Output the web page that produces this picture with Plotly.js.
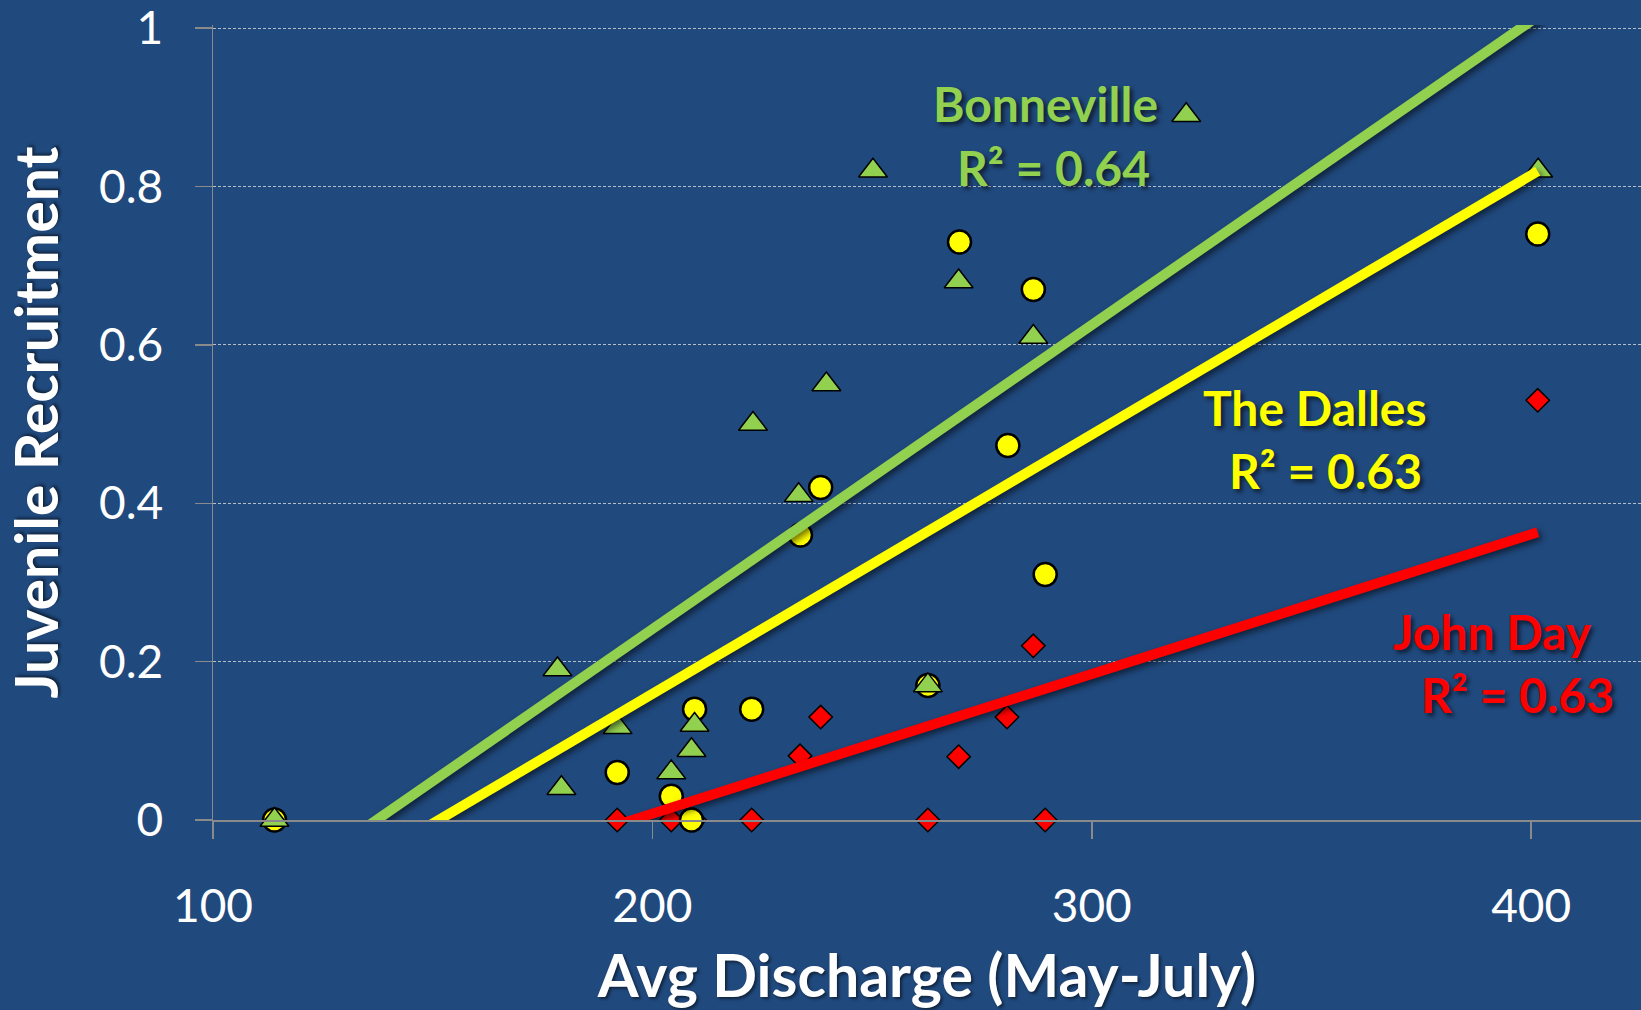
<!DOCTYPE html>
<html>
<head>
<meta charset="utf-8">
<script src="https://cdn.plot.ly/plotly-3.0.1.min.js"></script>
<style>
  html, body { margin: 0; padding: 0; background: #20497D; }
  #chart { width: 1641px; height: 1010px; }
</style>
</head>
<body>
<div id="chart"></div>
<script>
// ---- Data ----
const bonnevilleX = [114, 178.4, 179.3, 192.1, 204.3, 208.9, 209.6, 222.9, 233.3, 239.6, 250.2, 262.7, 269.7, 286.7, 321.5, 401.6];
const bonnevilleY = [0, 0.19, 0.04, 0.117, 0.06, 0.088, 0.12, 0.50, 0.41, 0.55, 0.82, 0.17, 0.68, 0.61, 0.89, 0.82];

const dallesX = [114, 192.0, 204.3, 208.9, 209.6, 222.6, 233.7, 238.3, 262.7, 269.9, 280.9, 286.7, 289.4, 401.5];
const dallesY = [0, 0.06, 0.03, 0, 0.14, 0.14, 0.36, 0.42, 0.17, 0.73, 0.473, 0.67, 0.31, 0.74];

const johnDayX = [114, 192.0, 204.3, 209.6, 222.6, 233.6, 238.3, 262.7, 269.7, 280.7, 286.7, 289.4, 401.5];
const johnDayY = [0, 0, 0, 0, 0, 0.081, 0.13, 0, 0.08, 0.13, 0.22, 0, 0.53];

const seriesNames = ["Bonneville", "The Dalles", "John Day"];
const r2Labels = ["R² = 0.64", "R² = 0.63", "R² = 0.63"];
const xTickVals = [100, 200, 300, 400];
const yTickVals = [0, 0.2, 0.4, 0.6, 0.8, 1];
const yTickText = ["0", "0.2", "0.4", "0.6", "0.8", "1"];
const xTitle = "Avg Discharge (May-July)";
const yTitle = "Juvenile Recruitment";

// ---- Linear trend line (least squares) over each series' x span ----
function trend(xs, ys) {
  const n = xs.length;
  const mx = xs.reduce((a, b) => a + b, 0) / n;
  const my = ys.reduce((a, b) => a + b, 0) / n;
  let sxy = 0, sxx = 0;
  for (let i = 0; i < n; i++) { sxy += (xs[i] - mx) * (ys[i] - my); sxx += (xs[i] - mx) ** 2; }
  const b = sxy / sxx, a = my - b * mx;
  const x0 = Math.min(...xs), x1 = Math.max(...xs);
  return { x: [x0, x1], y: [a + b * x0, a + b * x1] };
}

const GREEN = "#92D050", YELLOW = "#FFFF00", RED = "#FF0000";
const BG = "#20497D";
const FONT = "Lato, 'Open Sans', sans-serif";

const tB = trend(bonnevilleX, bonnevilleY);
const tD = trend(dallesX, dallesY);
const tJ = trend(johnDayX, johnDayY);

const traces = [
  { type: "scatter", mode: "markers", name: seriesNames[2], x: johnDayX, y: johnDayY, cliponaxis: false,
    marker: { symbol: "diamond", size: 18, color: RED, line: { color: "#000", width: 1.5 } } },
  { type: "scatter", mode: "markers", name: seriesNames[1], x: dallesX, y: dallesY, cliponaxis: false,
    marker: { symbol: "circle", size: 23, color: YELLOW, line: { color: "#000", width: 2.5 } } },
  { type: "scatter", mode: "markers", name: seriesNames[0], x: bonnevilleX, y: bonnevilleY, cliponaxis: false,
    marker: { symbol: "triangle-up", size: 25, color: GREEN, line: { color: "#000", width: 1.5 } } },
  { type: "scatter", mode: "lines", x: tB.x, y: tB.y, line: { color: GREEN, width: 10 }, hoverinfo: "skip" },
  { type: "scatter", mode: "lines", x: tD.x, y: tD.y, line: { color: YELLOW, width: 10 }, hoverinfo: "skip" },
  { type: "scatter", mode: "lines", x: tJ.x, y: tJ.y, line: { color: RED, width: 10 }, hoverinfo: "skip" }
];

const shadow = "3px 3px 4px rgba(0,0,0,0.6)";
function ann(text, x, y, color) {
  return { text: text, x: x, y: y, xref: "x", yref: "y", showarrow: false, xanchor: "center", yanchor: "middle",
    font: { family: FONT, size: 48, color: color, weight: "bold", shadow: shadow } };
}

const layout = {
  width: 1641, height: 1010,
  margin: { l: 212.5, r: 0, t: 25, b: 189.7, pad: 0 },
  paper_bgcolor: BG, plot_bgcolor: BG,
  showlegend: false,
  xaxis: {
    range: [100, 425], tickvals: xTickVals, ticks: "outside", ticklen: 17, tickwidth: 1.5, tickcolor: "#8a8a8a",
    showline: true, linecolor: "#8a8a8a", linewidth: 2, showgrid: false, zeroline: false,
    tickfont: { family: FONT, size: 46, color: "#ffffff" }, ticklabelstandoff: 28,
    automargin: false,
    title: { text: xTitle, font: { family: FONT, size: 59, color: "#ffffff", weight: "bold", shadow: "2px 2px 3px rgba(0,0,0,0.5)" }, standoff: 36 }
  },
  yaxis: {
    range: [0, 1.004], tickvals: yTickVals, ticktext: yTickText, ticks: "outside", ticklen: 17, tickwidth: 1.5, tickcolor: "#8a8a8a",
    showline: true, linecolor: "#8a8a8a", linewidth: 1.5, zeroline: false,
    showgrid: true, gridcolor: "#b4bfcc", gridwidth: 1, griddash: "3px,2px",
    tickfont: { family: FONT, size: 46, color: "#ffffff" }, ticklabelstandoff: 22, ticklabeloverflow: "allow",
    automargin: false,
    title: { text: yTitle, font: { family: FONT, size: 59, color: "#ffffff", weight: "bold", shadow: "2px 2px 3px rgba(0,0,0,0.5)" }, standoff: 26 }
  },
  annotations: [
    ann(seriesNames[0], 289.5, 0.905, GREEN),
    ann(r2Labels[0], 291.2, 0.824, GREEN),
    ann(seriesNames[1], 350.7, 0.521, YELLOW),
    ann(r2Labels[1], 353.2, 0.441, YELLOW),
    ann(seriesNames[2], 391.2, 0.238, RED),
    ann(r2Labels[2], 396.9, 0.158, RED)
  ]
};

Plotly.newPlot("chart", traces, layout, { displayModeBar: false, staticPlot: true }).then(function (gd) {
  // soft drop shadow under the trend lines, as in the original
  gd.querySelectorAll(".scatterlayer .trace .js-line").forEach(function (p) {
    p.style.filter = "drop-shadow(3px 3px 3px rgba(0,0,0,0.55))";
  });
});
</script>
</body>
</html>
